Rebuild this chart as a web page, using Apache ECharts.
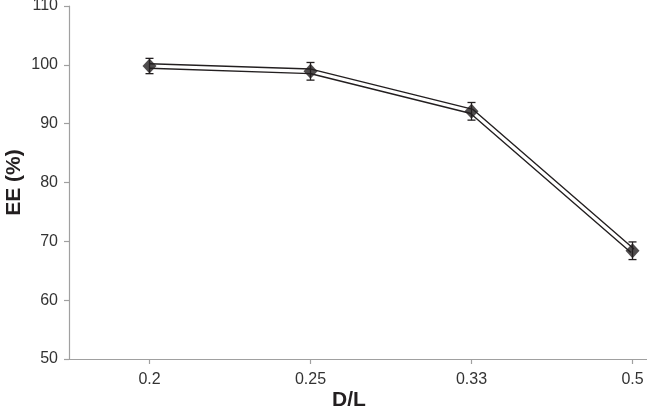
<!DOCTYPE html>
<html>
<head>
<meta charset="utf-8">
<script src="https://cdn.jsdelivr.net/npm/echarts@6/dist/echarts.min.js"></script>
<style>
html,body{margin:0;padding:0;background:#fff;}
#chart{width:647px;height:415px;}
</style>
</head>
<body>
<div id="chart"></div>
<script>
// Data
var categories = ['0.2', '0.25', '0.33', '0.5'];
var eeValues = [99.8, 98.9, 92.1, 68.4];
var eeErrors = [1.3, 1.5, 1.5, 1.5];
var yTicks = [50, 60, 70, 80, 90, 100, 110];

var chart = echarts.init(document.getElementById('chart'), null, {renderer: 'canvas'});

var errorData = categories.map(function (c, i) {
  return [i, eeValues[i] - eeErrors[i], eeValues[i] + eeErrors[i]];
});

var option = {
  animation: false,
  backgroundColor: '#ffffff',
  grid: {left: 69, top: 6, height: 353, width: 644, containLabel: false, outerBoundsMode: 'none'},
  xAxis: {
    type: 'category',
    data: categories,
    boundaryGap: true,
    name: 'D/L',
    nameLocation: 'middle',
    nameGap: 31,
    nameMoveOverlap: false,
    nameTextStyle: {fontFamily: 'Liberation Sans, Arial', fontSize: 21, fontWeight: 'bold', color: '#231f20', padding: [0, 84, 0, 0]},
    axisLine: {lineStyle: {color: '#a0a0a0', width: 1.2}},
    axisTick: {show: true, alignWithLabel: true, length: 5, lineStyle: {color: '#a0a0a0', width: 1.2}},
    axisLabel: {fontFamily: 'Liberation Sans, Arial', fontSize: 16, color: '#333333', margin: 13},
    splitLine: {show: false}
  },
  yAxis: {
    type: 'value',
    min: yTicks[0],
    max: yTicks[yTicks.length - 1],
    interval: 10,
    name: 'EE (%)',
    nameLocation: 'middle',
    nameGap: 44,
    nameMoveOverlap: false,
    nameTextStyle: {fontFamily: 'Liberation Sans, Arial', fontSize: 21, fontWeight: 'bold', color: '#231f20'},
    axisLine: {show: true, lineStyle: {color: '#a0a0a0', width: 1.2}},
    axisTick: {show: true, length: 5, lineStyle: {color: '#a0a0a0', width: 1.2}},
    axisLabel: {fontFamily: 'Liberation Sans, Arial', fontSize: 16, color: '#333333', margin: 11},
    splitLine: {show: false}
  },
  series: [
    {
      type: 'line',
      data: eeValues,
      symbol: 'none',
      lineStyle: {color: '#231f20', width: 6},
      z: 2
    },
    {
      type: 'line',
      data: eeValues,
      symbol: 'none',
      lineStyle: {color: '#ffffff', width: 3.2},
      z: 3
    },
    {
      type: 'custom',
      data: errorData,
      z: 4,
      renderItem: function (params, api) {
        var x = api.value(0);
        var lo = api.coord([x, api.value(1)]);
        var hi = api.coord([x, api.value(2)]);
        var hw = 4;
        var style = {stroke: '#231f20', lineWidth: 1.3};
        return {
          type: 'group',
          children: [
            {type: 'line', shape: {x1: lo[0], y1: lo[1], x2: hi[0], y2: hi[1]}, style: style},
            {type: 'line', shape: {x1: lo[0] - hw, y1: lo[1], x2: lo[0] + hw, y2: lo[1]}, style: style},
            {type: 'line', shape: {x1: hi[0] - hw, y1: hi[1], x2: hi[0] + hw, y2: hi[1]}, style: style}
          ]
        };
      }
    },
    {
      type: 'scatter',
      data: eeValues,
      symbol: 'diamond',
      symbolSize: [14, 15],
      itemStyle: {color: '#231f20'},
      z: 5
    }
  ]
};
chart.setOption(option);
</script>
</body>
</html>
